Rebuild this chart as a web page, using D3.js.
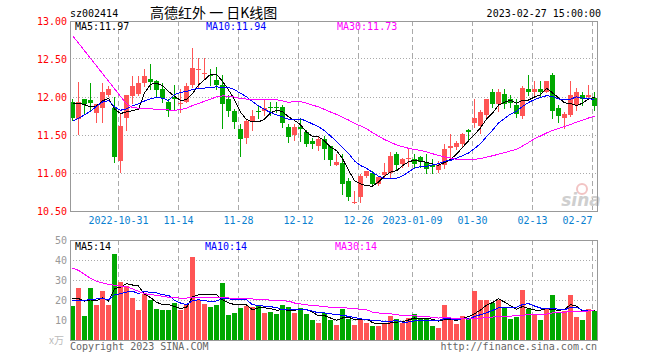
<!DOCTYPE html>
<html><head><meta charset="utf-8">
<script src="https://cdn.jsdelivr.net/npm/d3@7"></script>
<style>body{margin:0;background:#fff}svg{display:block}</style>
</head><body><svg id="c" width="660" height="360"></svg>
<script>
// ---------- data ----------
const dates = ["2022-10-19","2022-10-20","2022-10-21","2022-10-24","2022-10-25","2022-10-26","2022-10-27","2022-10-28","2022-10-31",
"2022-11-01","2022-11-02","2022-11-03","2022-11-04","2022-11-07","2022-11-08","2022-11-09","2022-11-10","2022-11-11","2022-11-14",
"2022-11-15","2022-11-16","2022-11-17","2022-11-18","2022-11-21","2022-11-22","2022-11-23","2022-11-24","2022-11-25","2022-11-28",
"2022-11-29","2022-11-30","2022-12-01","2022-12-02","2022-12-05","2022-12-06","2022-12-07","2022-12-08","2022-12-09","2022-12-12",
"2022-12-13","2022-12-14","2022-12-15","2022-12-16","2022-12-19","2022-12-20","2022-12-21","2022-12-22","2022-12-23","2022-12-26",
"2022-12-27","2022-12-28","2022-12-29","2022-12-30","2023-01-03","2023-01-04","2023-01-05","2023-01-06","2023-01-09",
"2023-01-10","2023-01-11","2023-01-12","2023-01-13","2023-01-16","2023-01-17","2023-01-18","2023-01-19","2023-01-20","2023-01-30",
"2023-01-31","2023-02-01","2023-02-02","2023-02-03","2023-02-06","2023-02-07","2023-02-08","2023-02-09","2023-02-10","2023-02-13",
"2023-02-14","2023-02-15","2023-02-16","2023-02-17","2023-02-20","2023-02-21","2023-02-22","2023-02-23","2023-02-24","2023-02-27"];

const open  = [11.94,11.71,11.98,11.96,11.79,11.86,12.02,11.86,11.16,11.72,12.02,12.04,12.19,12.24,12.21,12.10,11.93,12.00,11.91,11.94,
12.15,12.36,12.30,12.29,12.23,12.16,11.97,11.81,11.58,11.45,11.68,11.82,11.81,11.87,11.87,11.87,11.60,11.51,11.60,11.54,
11.42,11.36,11.45,11.35,11.11,11.13,10.90,10.61,10.69,10.96,11.00,10.86,10.97,11.01,11.25,11.11,11.19,11.19,11.21,11.14,
11.10,11.04,11.11,11.33,11.35,11.38,11.56,11.65,11.61,11.76,12.07,11.91,12.04,11.97,11.90,11.75,12.11,12.07,12.11,12.07,
12.29,11.85,11.73,11.76,11.90,12.02,12.01,11.99];
const high  = [11.97,12.20,11.98,12.19,11.91,12.18,12.14,12.00,11.78,12.02,12.27,12.27,12.37,12.43,12.23,12.19,11.97,12.16,12.10,12.18,
12.65,12.51,12.51,12.37,12.39,12.29,12.03,11.84,11.64,11.70,11.83,11.89,11.97,11.94,11.94,11.89,11.65,11.64,11.71,11.57,
11.46,11.48,11.49,11.36,11.25,11.25,10.93,10.76,10.99,11.02,11.02,10.96,11.13,11.28,11.27,11.20,11.32,11.25,11.23,11.25,
11.18,11.16,11.38,11.51,11.42,11.52,11.58,11.97,11.83,11.97,12.10,12.10,12.10,12.02,11.97,12.14,12.29,12.21,12.21,12.21,
12.31,11.89,11.80,12.21,12.12,12.07,12.16,12.07];
const low   = [11.70,11.51,11.78,11.82,11.67,11.67,12.01,11.15,11.01,11.57,11.92,12.02,12.15,12.10,12.00,11.93,11.75,11.83,11.80,11.93,
12.13,12.13,12.25,12.16,12.10,11.59,11.75,11.59,11.22,11.40,11.57,11.72,11.76,11.76,11.80,11.61,11.41,11.43,11.42,11.36,
11.33,11.30,11.19,11.10,11.10,10.73,10.65,10.60,10.62,10.95,10.84,10.84,10.95,10.94,11.04,11.08,11.09,11.06,11.08,11.00,
11.00,11.01,11.06,11.20,11.31,11.35,11.45,11.61,11.52,11.74,11.87,11.82,11.86,11.87,11.74,11.73,12.02,12.02,12.00,12.06,
11.72,11.67,11.59,11.75,11.83,11.90,11.97,11.83];
const close = [11.73,11.94,11.91,11.92,11.91,12.07,12.10,11.21,11.62,12.02,12.15,12.19,12.28,12.20,12.09,11.98,11.81,11.97,11.92,12.15,
12.38,12.37,12.31,12.28,12.16,11.91,11.81,11.67,11.45,11.68,11.75,11.81,11.85,11.86,11.86,11.66,11.47,11.61,11.57,11.38,
11.38,11.45,11.32,11.17,11.15,10.86,10.69,10.62,10.96,11.02,10.85,10.95,11.01,11.23,11.11,11.18,11.20,11.13,11.15,11.05,
11.07,11.10,11.32,11.35,11.40,11.51,11.54,11.72,11.80,11.97,11.91,12.07,11.91,11.92,11.78,12.12,12.07,12.11,12.07,12.21,
11.81,11.75,11.78,12.02,12.07,11.97,12.03,11.88];
// volume, 万
const volume = [17,26,12,26,17.5,24.5,17.5,43,29,27,21,15,23,20,15.5,15,15,18.5,15,18,
41.5,20,18,16.5,17.5,28.5,12.5,13.5,16,17,16.5,17.5,13.5,14,13,17.5,16.5,13.5,16,13,
10,8.5,13.5,10,7.5,15.5,10.5,7.5,10,8.5,7,7,8,12,10.5,8.5,11,13,10.5,10.5,
7,6,17.5,10.5,8,12,10.5,24.5,20,20,18.5,20,16.5,10.5,11.5,25,15.5,12.5,10,15.5,
22.5,13.5,14.5,22.5,11.5,10,15.5,14.5];
// sessions before the visible window (estimated from where the MA lines start)
const priorClose = [14.94,14.91,14.92,14.91,15.07,15.10,14.21,14.62,15.02,13.65,
12.34,12.43,12.35,12.24,12.13,11.96,12.12,11.62,11.55,11.38,
11.55,11.44,11.45,11.25,11.51,11.94,12.01,12.07,11.85];
const priorVolume = [62,72,85,62.5,48.5,38.5,58,41,36,51,55,54,38,24.5,30,30,27.5,18,18,35.5,
23,12,22,14,21.5,25,18,23.5,19];

const tickDates  = ["2022-10-31","2022-11-14","2022-11-28","2022-12-12","2022-12-26","2023-01-09","2023-01-30","2023-02-13","2023-02-27"];
const tickLabels = ["2022-10-31","11-14","11-28","12-12","12-26","2023-01-09","01-30","02-13","02-27"];
const priceTicks = [13, 12.5, 12, 11.5, 11, 10.5];
const volTicks   = [50, 40, 30, 20, 10];
const maPeriods  = [5, 10, 30];
const maColors   = ["#000000", "#0000ff", "#ff00ff"];
const priceLegend = ["MA5:11.97", "MA10:11.94", "MA30:11.73"];
const volLegend   = ["MA5:14", "MA10:14", "MA30:14"];

// ---------- layout ----------
const L = 70, R = 597, PT = 21, PB = 211, VT = 240, VB = 340;
const RED = "#ff5555", GREEN = "#00a800";
const MONO = "'DejaVu Sans Mono', monospace";

const svg = d3.select("#c");
const x  = d3.scaleBand().domain(dates).range([69.5, 597.5]).paddingInner(1/6).paddingOuter(1/12);
const yP = d3.scaleLinear().domain([10.5, 13]).range([PB, PT]);
const yV = d3.scaleLinear().domain([0, 50]).range([VB, VT]);
const bw = x.bandwidth();
const cx = d => x(d) + Math.floor(bw / 2) + 0.5;
const px = v => Math.floor(v) + 0.5;

function movingAvg(vals, prior, n) {
  const all = prior.concat(vals), off = prior.length;
  return vals.map((v, i) => d3.mean(all.slice(off + i - n + 1, off + i + 1)));
}
const up = dates.map((d, i) => close[i] >= open[i]);

// ---------- header ----------
svg.append("text").attr("x", 70).attr("y", 17).attr("font-family", MONO).attr("font-size", 10).attr("fill", "#000").text("sz002414");
svg.append("text").attr("x", 150).attr("y", 18).attr("font-family", "'Noto Sans CJK SC', sans-serif").attr("font-size", 14).attr("fill", "#000").text("高德红外 一 日K线图");
svg.append("text").attr("x", 601).attr("y", 16.5).attr("text-anchor", "end").attr("font-family", MONO).attr("font-size", 10).attr("fill", "#000").text("2023-02-27 15:00:00");

// ---------- grids ----------
const grid = svg.append("g").attr("shape-rendering", "crispEdges");
[[PT, PB], [VT, VB]].forEach(([t, b]) => {
  grid.selectAll(null).data(tickDates).enter().append("line")
    .attr("x1", d => x(d) + 0.5).attr("x2", d => x(d) + 0.5)
    .attr("y1", t).attr("y2", b)
    .attr("stroke", "#aaa").attr("stroke-dasharray", "5,3");
});
grid.selectAll(null).data(priceTicks.slice(1, -1)).enter().append("line")
  .attr("x1", L).attr("x2", R).attr("y1", d => px(yP(d))).attr("y2", d => px(yP(d)))
  .attr("stroke", "#aaa").attr("stroke-dasharray", "1,2");
grid.selectAll(null).data(volTicks.slice(1)).enter().append("line")
  .attr("x1", L).attr("x2", R).attr("y1", d => px(yV(d))).attr("y2", d => px(yV(d)))
  .attr("stroke", "#aaa").attr("stroke-dasharray", "1,2");

// ---------- watermark ----------
const wm = svg.append("g");
wm.append("circle").attr("cx", 582).attr("cy", 189).attr("r", 5).attr("fill", "none").attr("stroke", "#f2c4c4").attr("stroke-width", 2);
wm.append("text").attr("x", 581).attr("y", 206).attr("text-anchor", "middle").attr("font-family", "'DejaVu Sans', sans-serif")
  .attr("font-size", 17).attr("font-weight", "bold").attr("font-style", "italic").attr("fill", "#cfcfcf").text("sina");

// ---------- candles ----------
const cg = svg.append("g").attr("shape-rendering", "crispEdges");
cg.selectAll("line.w").data(dates).enter().append("line")
  .attr("x1", d => cx(d)).attr("x2", d => cx(d))
  .attr("y1", (d, i) => Math.round(yP(high[i]))).attr("y2", (d, i) => Math.round(yP(low[i])) + 1)
  .attr("stroke", (d, i) => up[i] ? RED : GREEN);
cg.selectAll("rect.b").data(dates).enter().append("rect")
  .attr("x", d => x(d)).attr("width", bw)
  .attr("y", (d, i) => Math.round(yP(Math.max(open[i], close[i]))))
  .attr("height", (d, i) => Math.max(1, Math.round(Math.abs(yP(open[i]) - yP(close[i])))))
  .attr("fill", (d, i) => up[i] ? RED : GREEN);

// ---------- volume bars ----------
svg.append("g").attr("shape-rendering", "crispEdges").selectAll("rect").data(dates).enter().append("rect")
  .attr("x", d => x(d)).attr("width", bw)
  .attr("y", (d, i) => Math.round(yV(volume[i])))
  .attr("height", (d, i) => VB - Math.round(yV(volume[i])))
  .attr("fill", (d, i) => up[i] ? RED : GREEN);

// ---------- moving averages ----------
maPeriods.forEach((n, k) => {
  const mp = movingAvg(close, priorClose, n);
  const mv = movingAvg(volume, priorVolume, n);
  svg.append("path").attr("d", d3.line().x((v, i) => cx(dates[i])).y(v => yP(v))(mp))
    .attr("fill", "none").attr("stroke", maColors[k]).attr("stroke-width", 1).attr("shape-rendering", "crispEdges");
  svg.append("path").attr("d", d3.line().x((v, i) => cx(dates[i])).y(v => yV(v))(mv))
    .attr("fill", "none").attr("stroke", maColors[k]).attr("stroke-width", 1).attr("shape-rendering", "crispEdges");
});

// ---------- frames ----------
const fr = svg.append("g").attr("shape-rendering", "crispEdges").attr("fill", "none").attr("stroke", "#999");
fr.append("rect").attr("x", L + 0.5).attr("y", PT + 0.5).attr("width", R - L).attr("height", PB - PT);
fr.append("rect").attr("x", L + 0.5).attr("y", VT + 0.5).attr("width", R - L).attr("height", VB - VT);

// ---------- legends ----------
const legX = [75, 206, 337], volLegX = [75, 205, 335];
priceLegend.forEach((t, k) => svg.append("text").attr("x", legX[k]).attr("y", 30).attr("font-family", MONO)
  .attr("font-size", 10).attr("fill", maColors[k]).text(t));
volLegend.forEach((t, k) => svg.append("text").attr("x", volLegX[k]).attr("y", 250).attr("font-family", MONO)
  .attr("font-size", 10).attr("fill", maColors[k]).text(t));

// ---------- axes labels ----------
const yAxisP = d3.axisLeft(yP).tickValues(priceTicks).tickFormat(d3.format(".2f")).tickSize(0).tickPadding(3);
const gP = svg.append("g").attr("transform", `translate(${L},0)`).call(yAxisP);
gP.select(".domain").remove();
gP.selectAll("text").attr("font-family", MONO).attr("font-size", 10).attr("fill", "#ff0000");

const yAxisV = d3.axisLeft(yV).tickValues(volTicks).tickFormat(d3.format("d")).tickSize(0).tickPadding(3);
const gV = svg.append("g").attr("transform", `translate(${L},0)`).call(yAxisV);
gV.select(".domain").remove();
gV.selectAll("text").attr("font-family", MONO).attr("font-size", 10).attr("fill", "#999");
svg.append("text").attr("x", 49).attr("y", 344).attr("font-family", "'Noto Sans CJK SC', sans-serif").attr("font-size", 10).attr("fill", "#bbb").text("x万");

const xAxis = d3.axisBottom(x).tickValues(tickDates).tickFormat((d) => tickLabels[tickDates.indexOf(d)]).tickSize(0).tickPadding(6);
const gX = svg.append("g").attr("transform", `translate(${-x.bandwidth() / 2 + 0.5},${PB})`).call(xAxis);
gX.select(".domain").remove();
gX.selectAll("text").attr("font-family", MONO).attr("font-size", 10).attr("fill", "#0a7fd0")
  .attr("text-anchor", (d, i) => i === tickDates.length - 1 ? "end" : "middle")
  .attr("dx", (d, i) => i === tickDates.length - 1 ? 0 : 0);

// ---------- footer ----------
svg.append("text").attr("x", 70).attr("y", 350).attr("font-family", MONO).attr("font-size", 10).attr("fill", "#666").text("Copyright 2023 SINA.COM");
svg.append("text").attr("x", 597).attr("y", 350).attr("text-anchor", "end").attr("font-family", MONO).attr("font-size", 10).attr("fill", "#666").text("http://finance.sina.com.cn");
</script></body></html>
